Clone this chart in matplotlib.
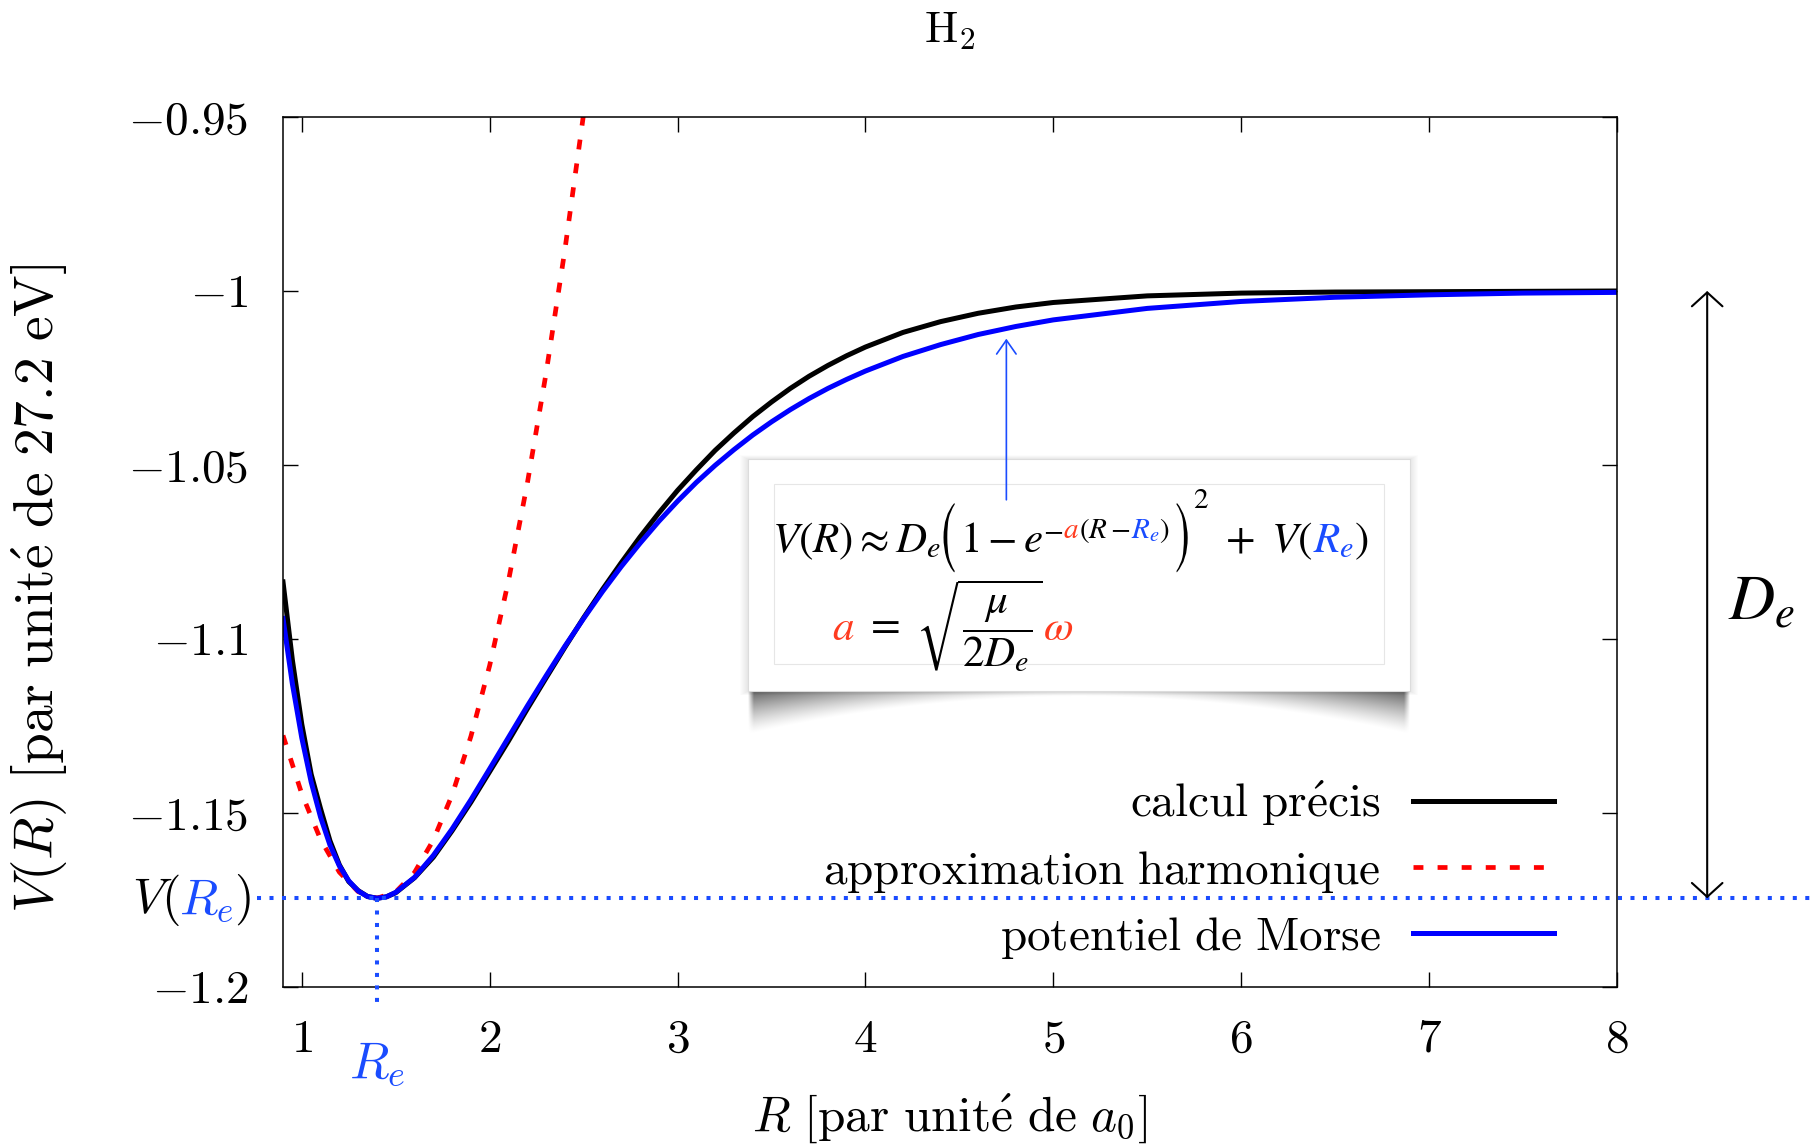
import numpy as np
import matplotlib
matplotlib.use("Agg")
import matplotlib.pyplot as plt
from matplotlib.patches import Rectangle, PathPatch
from matplotlib.textpath import TextPath
from matplotlib.font_manager import FontProperties
from matplotlib.transforms import IdentityTransform, Affine2D, blended_transform_factory

# ---- data (atomic units) ----
R_GRID = [0.90, 0.95, 1.00, 1.05, 1.10, 1.15, 1.20, 1.25, 1.30, 1.35, 1.40, 1.45,
          1.50, 1.60, 1.70, 1.80, 1.90, 2.00, 2.10, 2.20, 2.30, 2.40, 2.50, 2.60,
          2.70, 2.80, 2.90, 3.00, 3.10, 3.20, 3.30, 3.40, 3.50, 3.60, 3.70, 3.80,
          3.90, 4.00, 4.20, 4.40, 4.60, 4.80, 5.00, 5.50, 6.00, 6.50, 7.00, 7.50, 8.00]
V_EXACT = [-1.0836, -1.1061, -1.1245, -1.1389, -1.1488, -1.1580, -1.1649, -1.1697,
           -1.1723, -1.1740, -1.1745, -1.1741, -1.1729, -1.1686, -1.1627, -1.1551,
           -1.1469, -1.1381, -1.1293, -1.1201, -1.1112, -1.1024, -1.0939, -1.0858,
           -1.0781, -1.0707, -1.0638, -1.0573, -1.0514, -1.0458, -1.0408, -1.0361,
           -1.0319, -1.0280, -1.0245, -1.0214, -1.0186, -1.0161, -1.0119, -1.0088,
           -1.0064, -1.0046, -1.0033, -1.0014, -1.0006, -1.0003, -1.0002, -1.0001,
           -1.0000]
V_MORSE = [-1.0941, -1.1129, -1.1284, -1.1411, -1.1512, -1.1592, -1.1652, -1.1695,
           -1.1724, -1.1740, -1.1745, -1.1741, -1.1728, -1.1685, -1.1622, -1.1546,
           -1.1462, -1.1373, -1.1283, -1.1193, -1.1106, -1.1021, -1.0941, -1.0864,
           -1.0792, -1.0725, -1.0662, -1.0604, -1.0550, -1.0501, -1.0456, -1.0414,
           -1.0376, -1.0341, -1.0309, -1.0280, -1.0254, -1.0230, -1.0188, -1.0154,
           -1.0125, -1.0102, -1.0083, -1.0050, -1.0030, -1.0018, -1.0011, -1.0006,
           -1.0004]
R_HARM = [0.90, 1.00, 1.10, 1.20, 1.30, 1.40, 1.50, 1.60, 1.70, 1.80, 1.90, 2.00,
          2.10, 2.20, 2.30, 2.40, 2.50]
V_HARM = [-1.1277, -1.1445, -1.1576, -1.1670, -1.1726, -1.1745, -1.1727, -1.1671,
          -1.1578, -1.1448, -1.1280, -1.1076, -1.0833, -1.0554, -1.0237, -0.9883,
          -0.9491]
RE, V_RE, DE = 1.40, -1.1745, 0.1745

LABELS = [r"$\mathrm{calcul\ pr\acute{e}cis}$",
          r"$\mathrm{approximation\ harmonique}$",
          r"$\mathrm{potentiel\ de\ Morse}$"]
X_TICKS = [1, 2, 3, 4, 5, 6, 7, 8]
X_TICK_LABELS = ["1", "2", "3", "4", "5", "6", "7", "8"]
Y_TICKS = [-1.2, -1.15, -1.1, -1.05, -1.0, -0.95]
Y_TICK_LABELS = ["-1.2", "-1.15", "-1.1", "-1.05", "-1", "-0.95"]

K, RED, BLUE, BLUE2, FRED = "black", "#ff0000", "#0000ff", "#1a4cff", "#ff3b1f"

plt.rcParams.update({"font.family": "serif", "font.serif": ["cmr10"],
                     "mathtext.fontset": "cm", "axes.formatter.use_mathtext": True})

W, H = 1811, 1146
fig = plt.figure(figsize=(W / 100, H / 100), dpi=100)

def px(x0, top, w, h):
    return [x0 / W, 1 - (top + h) / H, w / W, h / H]

# ---- formula box (drawn under the main axes) ----
bax = fig.add_axes(px(720, 440, 720, 320), zorder=0)
bax.set_xlim(720, 1440); bax.set_ylim(760, 440); bax.axis("off")
for i in range(1, 9):   # soft glow round the card
    bax.add_patch(Rectangle((748 - i, 459 - i * 0.5), 662 + 2 * i, 232 + i,
                            fc="black", ec="none", alpha=0.012))
nx, ny = 662, 46
u = np.abs(2 * (np.arange(nx) + 0.5) / nx - 1)[None, :]
v = (np.arange(ny) + 0.5)[:, None]
depth = 6 + 38 * u ** 2.0
alpha = 0.62 * np.clip(1 - v / depth, 0, 1) ** 1.3 * (0.15 + 0.85 * u ** 1.6)
alpha *= np.clip((1 - u) * nx / 2 / 6, 0, 1)
shadow = np.zeros((ny, nx, 4)); shadow[..., 3] = alpha
bax.imshow(shadow, extent=(748, 1410, 737, 691), origin="upper", aspect="auto")
bax.add_patch(Rectangle((748, 459), 662, 232, fc="white", ec="#dcdcdc", lw=0.8))
bax.add_patch(Rectangle((774, 484), 610, 180, fc="none", ec="#e6e6e6", lw=0.8))

# ---- main axes ----
ax = fig.add_axes(px(283, 117, 1334, 870), zorder=1)
ax.patch.set_visible(False)
ax.plot(R_GRID, V_EXACT, color=K, lw=3.6, label=LABELS[0])
ax.plot(R_HARM, V_HARM, color=RED, lw=3.4, dashes=(2.1, 3.0), label=LABELS[1])
ax.plot(R_GRID, V_MORSE, color=BLUE, lw=3.6, label=LABELS[2])

# V(Re) / Re guide lines, running out of the frame
ax.plot([0.76, 9.1], [V_RE, V_RE], color=BLUE2, lw=2.9, dashes=(1, 2.1), clip_on=False, zorder=3)
ax.plot([RE, RE], [V_RE, -1.2058], color=BLUE2, lw=2.9, dashes=(1, 2.1), clip_on=False, zorder=3)

ax.set_xlim(0.9, 8); ax.set_ylim(-1.2, -0.95)
ax.set_xticks(X_TICKS); ax.set_xticklabels([f"${t}$" for t in X_TICK_LABELS])
ax.set_yticks(Y_TICKS); ax.set_yticklabels([f"${t}$" for t in Y_TICK_LABELS])
ax.tick_params(direction="in", length=11, width=1.0, top=True, right=True, labelsize=34)
ax.tick_params(axis="x", pad=23); ax.tick_params(axis="y", pad=25)
for s in ax.spines.values(): s.set_linewidth(1.1)

ax.legend(loc="lower right", bbox_to_anchor=(0.9528, 0.03), markerfirst=False,
          frameon=False, fontsize=34, handlelength=2.99, handletextpad=0.68,
          labelspacing=0.43, borderpad=0, borderaxespad=0)

# De double arrow + label
ax.annotate("", xy=(8.48, V_RE + DE), xytext=(8.48, V_RE), annotation_clip=False,
            arrowprops=dict(arrowstyle="<->,head_length=0.5,head_width=0.55", lw=1.5,
                            color=K, shrinkA=0, shrinkB=0, mutation_scale=20))
ax.text(8.59, -1.0943, r"$D_e$", fontsize=46, math_fontfamily="stix",
        ha="left", va="baseline", clip_on=False)
# arrow from the formula to the Morse curve
ax.annotate("", xy=(4.75, -1.0137), xytext=(4.75, -1.060),
            arrowprops=dict(arrowstyle="->,head_length=0.5,head_width=0.35", lw=1.2,
                            color=BLUE2, shrinkA=0, shrinkB=0, mutation_scale=20))

ax.text(RE, -0.1046, r"$R_e$", color=BLUE2, fontsize=37, ha="center", va="baseline",
        transform=blended_transform_factory(ax.transData, ax.transAxes))

# ---- titles / axis labels ----
fig.text(950 / W, 1 - 42 / H, r"$\mathrm{H}_2$", fontsize=32, ha="center", va="baseline")
fig.text(950 / W, 1 - 1131 / H, r"$R\ \mathrm{[par\ unit\acute{e}\ de\ }a_0\mathrm{]}$",
         fontsize=35.5, ha="center", va="baseline")
fig.text(40 / W, 1 - 588 / H, r"$V(R)\ \mathrm{[par\ unit\acute{e}\ de\ 27.2\ eV]}$",
         fontsize=40, ha="center", va="center", rotation=90)

# ---- multi-coloured math, laid out piece by piece ----
rend = fig.canvas.get_renderer()
STIX = FontProperties(family="STIXGeneral")

def chain(parts, x0, top, math, align="left"):
    items = []
    for s, col, fs, dx, dy in parts:
        if s in ("BIG(", "BIG)"):          # tall thin bracket, stretched glyph
            tp = TextPath((0, 0), s[-1], size=fs, prop=STIX)
            e = tp.get_extents()
            items.append(("path", (tp, e, col), e.width + 6, dx, dy))
        else:
            t = fig.text(0, 0, s, color=col, fontsize=fs, math_fontfamily=math,
                         transform=IdentityTransform(), ha="left", va="baseline", zorder=5)
            items.append(("text", t, t.get_window_extent(rend).width, dx, dy))
    total = sum(w + dx for _, _, w, dx, _ in items)
    x = x0 - total if align == "right" else x0
    for kind, obj, w, dx, dy in items:
        x += dx
        if kind == "text":
            obj.set_position((x, H - top + dy))
        else:
            tp, e, col = obj
            tr = Affine2D().translate(-e.x0 + 3, 0).scale(1, 1.85).translate(x, H - top + dy)
            fig.add_artist(PathPatch(tr.transform_path(tp), fc=col, ec="none",
                                     transform=IdentityTransform(), zorder=5))
        x += w

chain([(r"$V(R)\approx D_e\ $", K, 31, 0, 0),
       ("BIG(", K, 44, 0, -6),
       (r"$1-e$", K, 31, 2, 0),
       (r"$-$", K, 21, 0, 14),
       (r"$a$", FRED, 21, 0, 14),
       (r"$(R-$", K, 21, 0, 14),
       (r"$R_e$", BLUE2, 21, 0, 14),
       (r"$)$", K, 21, 0, 14),
       ("BIG)", K, 44, 4, -6),
       (r"$2$", K, 21, 2, 44),
       (r"$\ +\ V($", K, 31, 0, 0),
       (r"$R_e$", BLUE2, 31, 0, 0),
       (r"$)$", K, 31, 0, 0)], 772, 552, "stix")
chain([(r"$a$", FRED, 31, 0, 0),
       (r"$\ =\ \sqrt{\dfrac{\mu}{2D_e}}$", K, 31, 0, 0),
       (r"$\omega$", FRED, 31, 0, 0)], 832, 640, "stix")
chain([(r"$V($", K, 36, 0, 0),
       (r"$R_e$", BLUE2, 36, 0, 0),
       (r"$)$", K, 36, 0, 0)], 251, 913, "cm", align="right")

fig.savefig("out.png", dpi=100, facecolor="white")
